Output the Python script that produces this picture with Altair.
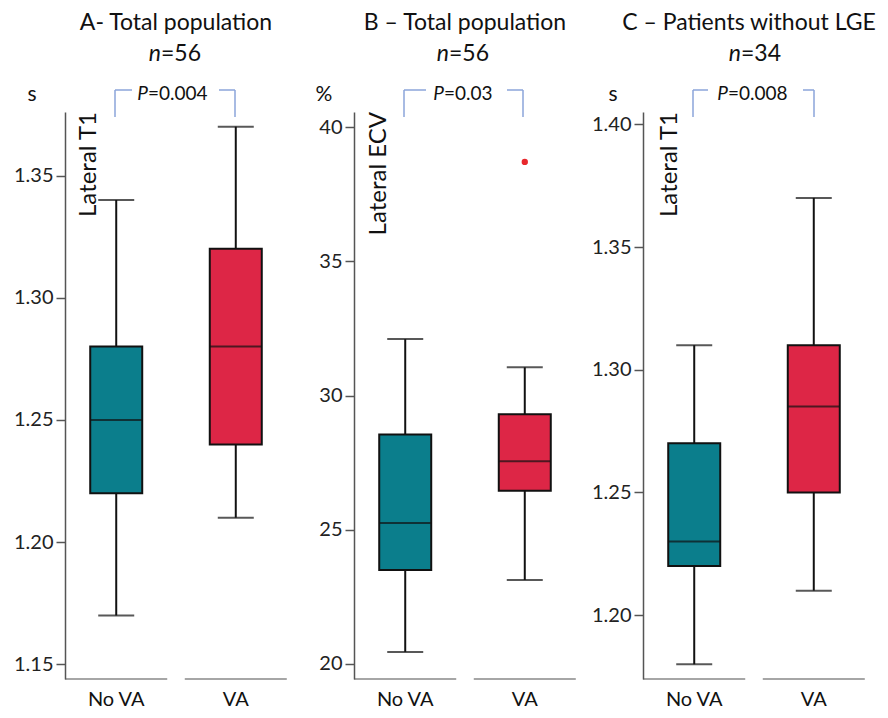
import altair as alt
import pandas as pd

categories = ["No VA", "VA"]
panel_titles = ["A- Total population", "B \u2013 Total population", "C \u2013 Patients without LGE"]
panel_n = ["=56", "=56", "=34"]
y_labels = ["Lateral T1", "Lateral ECV", "Lateral T1"]
units = ["s", "%", "s"]
p_values = ["=0.004", "=0.03", "=0.008"]

# box-plot summaries per panel: [No VA, VA]
whisker_low = [[1.17, 1.21], [20.45, 23.13], [1.18, 1.21]]
q1 = [[1.22, 1.24], [23.5, 26.45], [1.22, 1.25]]
median = [[1.25, 1.28], [25.25, 27.55], [1.23, 1.285]]
q3 = [[1.28, 1.32], [28.55, 29.3], [1.27, 1.31]]
whisker_high = [[1.34, 1.37], [32.1, 31.05], [1.31, 1.37]]
outlier_cat = [[], ["VA"], []]
outlier_val = [[], [38.7], []]

y_domains = [[1.144, 1.376], [19.44, 40.56], [1.174, 1.405]]
y_ticks = [[1.15, 1.20, 1.25, 1.30, 1.35], [20, 25, 30, 35, 40], [1.20, 1.25, 1.30, 1.35, 1.40]]
y_formats = [".2f", "d", ".2f"]

# annotation layout (pixels relative to plot area)
title_x = [111, 111, 106]
n_split = [96, 95, 98]
p_split = [83, 90, 85]
ylab_x = [31, 32, 34]
unit_x = [-33, -30, -30]
bracket_left = [[50, 67], [50, 72], [50, 65]]
bracket_right = [[154, 170], [153, 169], [160, 171]]

W, H = 222, 567
FONT = "Lato"
TEAL = "#0b7e8c"
RED = "#dd2646"
INK = "#111111"
BLUE = "#8ba4da"


def txt(s, x, y, size, align="center", style="normal", angle=0, baseline="alphabetic"):
    return alt.Chart(pd.DataFrame({"t": [s]})).mark_text(
        font=FONT, fontSize=size, align=align, baseline=baseline, fontStyle=style,
        angle=angle, color=INK
    ).encode(text="t:N", x=alt.value(x), y=alt.value(y))


def panel(i):
    df = pd.DataFrame({
        "cat": categories, "low": whisker_low[i], "q1": q1[i], "med": median[i],
        "q3": q3[i], "high": whisker_high[i],
    })
    xs = alt.X("cat:N", sort=categories,
               scale=alt.Scale(domain=categories, paddingInner=0.143, paddingOuter=0),
               axis=alt.Axis(title=None, labelAngle=0, domain=False, ticks=False,
                             labelFontSize=20, labelFont=FONT, labelColor=INK, labelPadding=10))

    def ye(f):
        return alt.Y(f + ":Q",
                     scale=alt.Scale(domain=y_domains[i], nice=False, zero=False),
                     axis=alt.Axis(title=None, values=y_ticks[i], format=y_formats[i], grid=False,
                                   domainColor="#555", domainWidth=1.5, tickColor="#555",
                                   tickWidth=1.5, tickSize=9, labelPadding=3, labelFontSize=20,
                                   labelFont=FONT, labelColor="#222"))

    base = alt.Chart(df)
    layers = [
        base.mark_rule(color=INK, strokeWidth=2).encode(x=xs, y=ye("low"), y2="q1:Q"),
        base.mark_rule(color=INK, strokeWidth=2).encode(x=xs, y=ye("q3"), y2="high:Q"),
        base.mark_tick(color=INK, thickness=2, size=36, orient="horizontal").encode(x=xs, y=ye("low")),
        base.mark_tick(color=INK, thickness=2, size=36, orient="horizontal").encode(x=xs, y=ye("high")),
        base.mark_bar(size=52, stroke=INK, strokeWidth=2).encode(
            x=xs, y=ye("q1"), y2="q3:Q",
            color=alt.Color("cat:N", scale=alt.Scale(domain=categories, range=[TEAL, RED]), legend=None)),
        base.mark_tick(color=INK, thickness=2, size=52, orient="horizontal").encode(x=xs, y=ye("med")),
        base.mark_tick(color="#555", thickness=1.5, size=102, orient="horizontal").encode(x=xs, y=alt.value(H)),
    ]
    if outlier_val[i]:
        od = pd.DataFrame({"cat": outlier_cat[i], "val": outlier_val[i]})
        layers.append(alt.Chart(od).mark_point(filled=True, color="#e8272c", size=40, opacity=1).encode(
            x=xs, y=ye("val")))

    # titles
    layers.append(txt(panel_titles[i], title_x[i], -82, 23))
    layers.append(txt("n", n_split[i], -51, 23, align="right", style="italic"))
    layers.append(txt(panel_n[i], n_split[i], -51, 23, align="left"))
    # unit and y label
    layers.append(txt(units[i], unit_x[i], -11, 21))
    layers.append(txt(y_labels[i], ylab_x[i], 0, 24, align="right", angle=270))
    # p-value bracket
    bl, br = bracket_left[i], bracket_right[i]
    rule = lambda: alt.Chart(pd.DataFrame({"a": [0]})).mark_rule(color=BLUE, strokeWidth=1.5)
    layers.append(rule().encode(x=alt.value(bl[0]), x2=alt.value(bl[1]), y=alt.value(-22)))
    layers.append(rule().encode(x=alt.value(bl[0]), y=alt.value(-22), y2=alt.value(5)))
    layers.append(rule().encode(x=alt.value(br[0]), x2=alt.value(br[1]), y=alt.value(-22)))
    layers.append(rule().encode(x=alt.value(br[1]), y=alt.value(-22), y2=alt.value(5)))
    layers.append(txt("P", p_split[i], -12, 19, align="right", style="italic"))
    layers.append(txt(p_values[i], p_split[i], -12, 19, align="left"))

    return alt.layer(*layers).properties(width=W, height=H)


chart = alt.hconcat(panel(0), panel(1), panel(2), spacing=67, bounds="flush").properties(
    padding={"left": 5, "top": 4, "right": 0, "bottom": 0}
).configure(
    font=FONT, view=alt.ViewConfig(stroke=None)
)

chart.save("out.html", embed_options={"renderer": "svg", "actions": False})
